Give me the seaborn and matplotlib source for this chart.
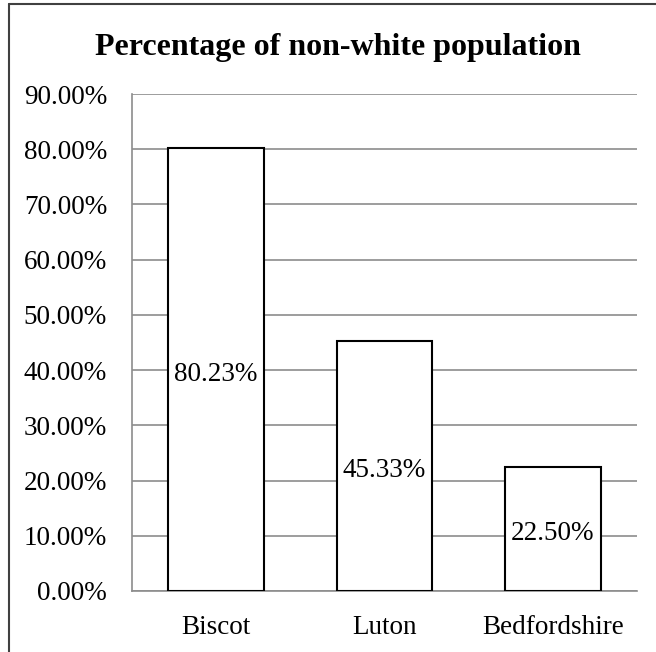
import pandas as pd
import seaborn as sns
from matplotlib import pyplot as plt
from matplotlib.ticker import FuncFormatter
from matplotlib.transforms import offset_copy

# Values
areas = ['Biscot', 'Luton', 'Bedfordshire']
non_white_pct = [80.23, 45.33, 22.50]

data = pd.DataFrame({'Area': areas, 'Pct': non_white_pct})

sns.set_style('white')
plt.rcParams['font.family'] = ['Liberation Serif', 'DejaVu Serif']
plt.rcParams['text.color'] = 'black'
plt.rcParams['xtick.color'] = 'black'
plt.rcParams['ytick.color'] = 'black'

f = plt.figure(figsize=(6.56, 6.52), dpi=100)
ax = f.add_axes([132 / 656, 1 - 591 / 652, (637 - 132) / 656, (591 - 94) / 652])

sns.barplot(x='Area', y='Pct', data=data, color='white', edgecolor='black',
            linewidth=1.5, width=0.57, ax=ax, zorder=3)

ax.set_ylim(0, 90)
ax.set_yticks(range(0, 91, 10))
ax.yaxis.set_major_formatter(FuncFormatter(lambda v, p: f'{v:.2f}%'))
ax.grid(axis='y', color='#8c8c8c', linewidth=1.2, zorder=0)
ax.set_axisbelow(True)
ax.tick_params(axis='both', labelsize=19.5, length=0, labelcolor='black')
ax.tick_params(axis='y', pad=18)
ax.tick_params(axis='x', pad=17)
ax.set(xlabel='', ylabel='')

for s in ['top', 'right']:
    ax.spines[s].set_visible(False)
for s in ['left', 'bottom']:
    ax.spines[s].set_color('#8c8c8c')
    ax.spines[s].set_linewidth(1.2)

# Data labels centred in each bar (nudged down a little like Excel does)
label_tr = offset_copy(ax.transData, fig=f, x=0, y=-3.5, units='points')
for i, v in enumerate(non_white_pct):
    ax.text(i, v / 2, f'{v:.2f}%', ha='center', va='center', fontsize=19.5,
            color='black', zorder=4, transform=label_tr)

f.text(338 / 656, 1 - 47 / 652, 'Percentage of non-white population',
       ha='center', va='center', fontsize=23, fontweight='bold', color='black')

# Chart frame (only top and left edge are visible in the crop)
f.add_artist(plt.Line2D([9 / 656, 9 / 656], [0, 1 - 4 / 652], transform=f.transFigure,
                        color='#404040', linewidth=1.5))
f.add_artist(plt.Line2D([9 / 656, 1], [1 - 4 / 652, 1 - 4 / 652], transform=f.transFigure,
                        color='#404040', linewidth=1.5))

f.savefig('out.png', dpi=100)
